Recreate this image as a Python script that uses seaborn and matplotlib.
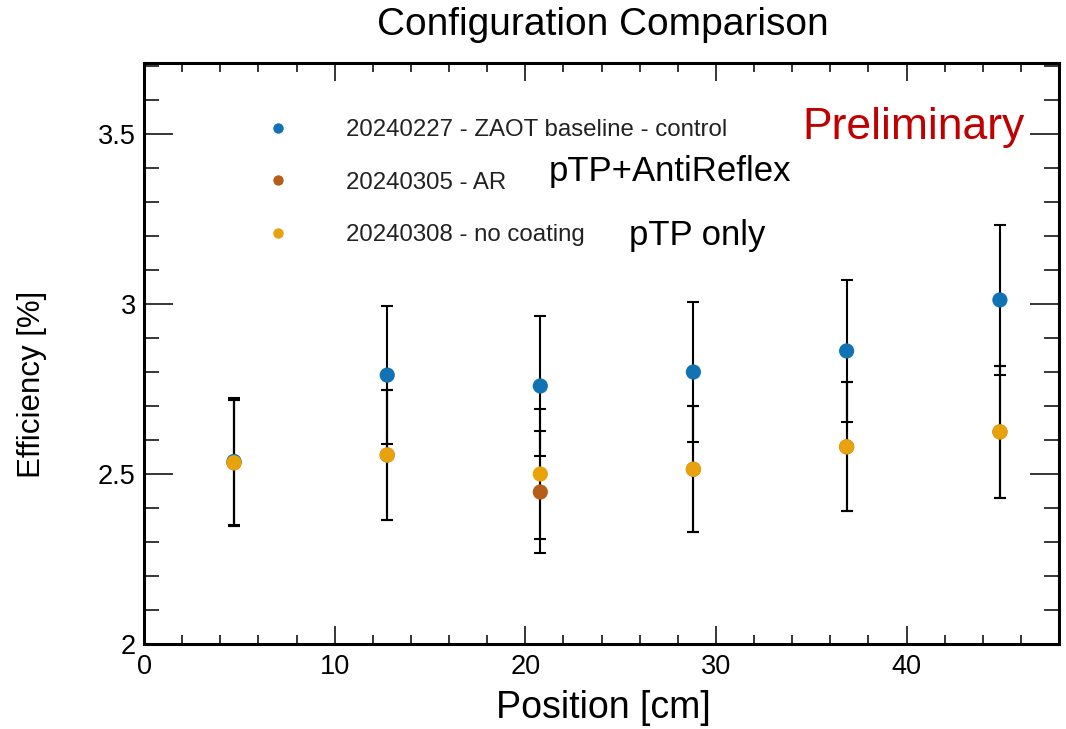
import numpy as np
import pandas as pd
import matplotlib
matplotlib.use("Agg")
import matplotlib.pyplot as plt
from matplotlib.lines import Line2D
from matplotlib.ticker import MultipleLocator, FuncFormatter
import seaborn as sns

# ---------------- data ----------------
positions = [4.72, 12.76, 20.79, 28.82, 36.86, 44.90]

series_names = [
    "20240227 - ZAOT baseline - control",
    "20240305 - AR",
    "20240308 - no coating",
]
baseline_eff = [2.537, 2.791, 2.759, 2.800, 2.862, 3.012]
baseline_err = [0.186, 0.203, 0.205, 0.205, 0.210, 0.220]
ar_eff = [2.533, 2.556, 2.447, 2.514, 2.580, 2.624]
ar_err = [0.186, 0.190, 0.180, 0.185, 0.190, 0.195]
nocoat_eff = [2.533, 2.556, 2.500, 2.514, 2.580, 2.624]
nocoat_err = [0.186, 0.190, 0.190, 0.185, 0.190, 0.195]

colors = ["#1173B3", "#B75D1C", "#E8A20C"]

title = "Configuration Comparison"
xlabel = "Position [cm]"
ylabel = "Efficiency [%]"
annot_prelim = "Preliminary"
annot_ar = "pTP+AntiReflex"
annot_nocoat = "pTP only"

# ---------------- build table ----------------
frames = []
for name, eff, err in zip(series_names,
                          [baseline_eff, ar_eff, nocoat_eff],
                          [baseline_err, ar_err, nocoat_err]):
    frames.append(pd.DataFrame({"position": positions, "eff": eff,
                                "err": err, "series": name}))
df = pd.concat(frames, ignore_index=True)

# ---------------- style ----------------
sns.set_theme(style="ticks")
plt.rcParams["font.family"] = ["Liberation Sans", "DejaVu Sans"]

fig = plt.figure(figsize=(10.66, 7.29), dpi=100)
ax = fig.add_axes([144 / 1066, 1 - 644 / 729, (1059 - 144) / 1066, (644 - 63) / 729])

# error bars (under markers)
for name in series_names:
    sub = df[df["series"] == name]
    ax.errorbar(sub["position"], sub["eff"], yerr=sub["err"], fmt="none",
                ecolor="black", elinewidth=1.5, capsize=4, capthick=1.5,
                zorder=2)

sns.scatterplot(data=df, x="position", y="eff", hue="series",
                hue_order=series_names, palette=colors, s=120,
                linewidth=0, legend=False, ax=ax, zorder=3)

ax.set_xlim(0, 48)
ax.set_ylim(2, 3.709)

ax.xaxis.set_major_locator(MultipleLocator(10))
ax.xaxis.set_minor_locator(MultipleLocator(2))
ax.yaxis.set_major_locator(MultipleLocator(0.5))
ax.yaxis.set_minor_locator(MultipleLocator(0.1))
fmt = FuncFormatter(lambda v, p: "%g" % v)
ax.xaxis.set_major_formatter(fmt)
ax.yaxis.set_major_formatter(fmt)

ax.tick_params(axis="both", which="both", direction="in", top=True,
               right=True, colors="black", labelsize=19.5, width=1.1)
ax.tick_params(axis="x", which="major", length=13, pad=7)
ax.tick_params(axis="x", which="minor", length=6.5)
ax.tick_params(axis="y", which="major", length=21, pad=6)
ax.tick_params(axis="y", which="minor", length=10.5)

for sp in ax.spines.values():
    sp.set_visible(True)
    sp.set_linewidth(2.2)
    sp.set_color("black")

ax.set_xlabel("")
ax.set_ylabel("")
fig.text(603 / 1066, 1 - 708 / 729, xlabel, ha="center", va="center",
         fontsize=27, color="black")
fig.text(32 / 1066, 1 - 384 / 729, ylabel, ha="center", va="center",
         rotation=90, fontsize=22.5, color="black")
fig.text(603 / 1066, 1 - 25 / 729, title, ha="center", va="center",
         fontsize=28, color="black")

# legend
handles = [Line2D([], [], marker="o", ls="", color=c, markersize=7.5,
                  markeredgewidth=0) for c in colors]
leg = ax.legend(handles, series_names, loc="upper left",
                bbox_to_anchor=((266 - 144) / 915, (644 - 119) / 581),
                frameon=False, fontsize=17.3, handlelength=1.0,
                handletextpad=2.35, labelspacing=1.27, borderpad=0,
                borderaxespad=0)
for t in leg.get_texts():
    t.set_color("#222222")

# annotations
ax.text((1025 - 144) / 915, (644 - 127) / 581, annot_prelim,
        transform=ax.transAxes, ha="right", va="center", fontsize=32,
        color="#C00000")
ax.text((549 - 144) / 915, (644 - 172) / 581, annot_ar,
        transform=ax.transAxes, ha="left", va="center", fontsize=25,
        color="black")
ax.text((629 - 144) / 915, (644 - 236) / 581, annot_nocoat,
        transform=ax.transAxes, ha="left", va="center", fontsize=25,
        color="black")

fig.savefig("out.png", dpi=100)
